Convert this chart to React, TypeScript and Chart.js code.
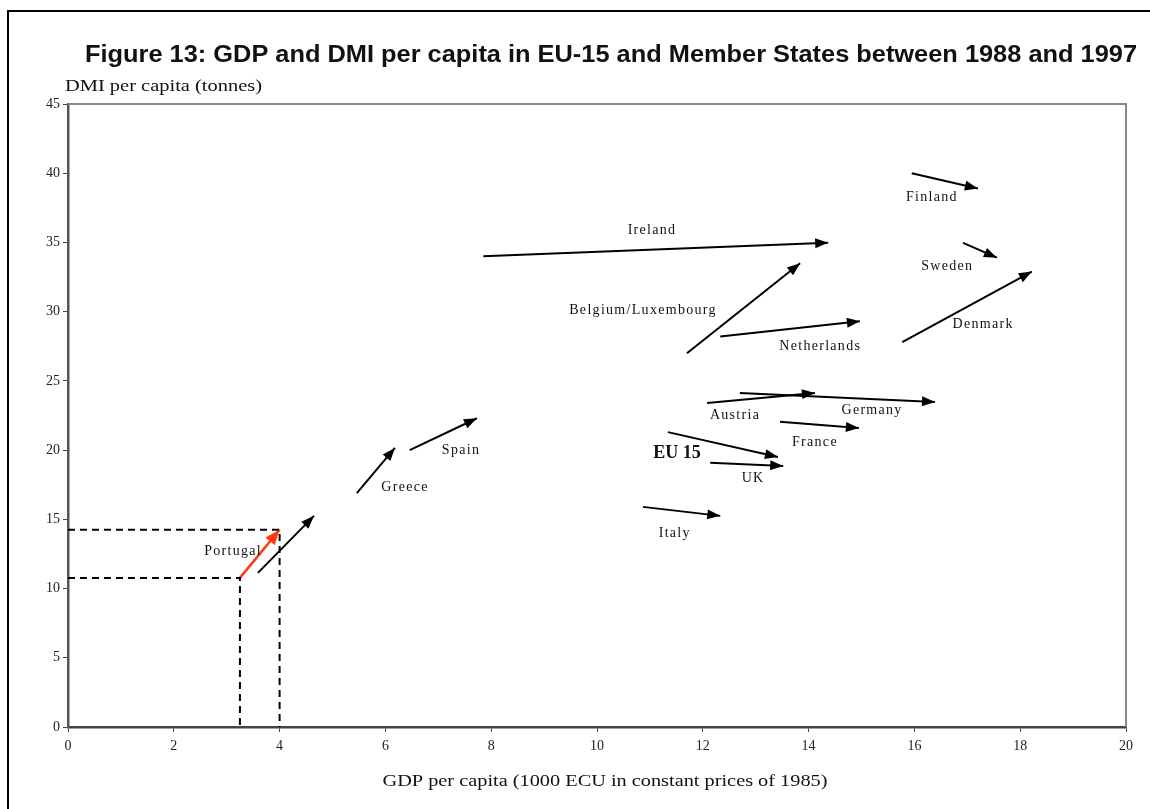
import { useEffect, useRef } from "react";
import { Chart, registerables } from "chart.js";
Chart.register(...registerables);

// ---- data (GDP per capita, 1000 ECU; DMI per capita, tonnes) ----
const countries = ["Ireland", "Belgium/Luxembourg", "Netherlands", "Finland", "Sweden", "Denmark", "Austria", "Germany", "France", "EU 15", "UK", "Italy", "Greece", "Spain", "Portugal"];
const gdp1988 = [7.85, 11.7, 12.33, 15.95, 16.92, 15.77, 12.08, 12.7, 13.46, 11.34, 12.14, 10.87, 5.46, 6.46, 3.59];
const dmi1988 = [34.0, 27.0, 28.2, 40.0, 34.97, 27.8, 23.4, 24.13, 22.04, 21.3, 19.08, 15.9, 16.9, 20.0, 11.13];
const gdp1997 = [14.37, 13.84, 14.97, 17.2, 17.56, 18.22, 14.12, 16.39, 14.95, 13.42, 13.52, 12.33, 6.18, 7.73, 4.65];
const dmi1997 = [34.97, 33.5, 29.3, 38.9, 33.9, 32.9, 24.13, 23.48, 21.6, 19.5, 18.86, 15.25, 20.16, 22.3, 15.25];
// label anchor positions in data units
const labelGdp = [11.04, 10.87, 14.22, 16.33, 16.62, 17.3, 12.61, 15.2, 14.12, 11.51, 12.95, 11.47, 6.37, 7.43, 3.12];
const labelDmi = [35.84, 30.13, 27.53, 38.29, 33.24, 29.05, 22.54, 22.9, 20.59, 19.8, 17.99, 14.02, 17.34, 20.01, 12.72];
// highlighted (red) arrow with guide lines
const highlightGdp = [3.25, 4.0];
const highlightDmi = [10.77, 14.25];
// axes
const xMin = 0, xMax = 20, xStep = 2;
const yMin = 0, yMax = 45, yStep = 5;

const TITLE = "Figure 13: GDP and DMI per capita in EU-15 and Member States between 1988 and 1997";
const Y_TITLE = "DMI per capita (tonnes)";
const X_TITLE = "GDP per capita (1000 ECU in constant prices of 1985)";

const SERIF = "'Liberation Serif', 'DejaVu Serif', serif";
const SANS = "'Liberation Sans', Arial, sans-serif";

function fitText(ctx: CanvasRenderingContext2D, text: string, x: number, y: number, width: number, font: string, align: "left" | "center") {
  ctx.save();
  ctx.font = font;
  ctx.textBaseline = "middle";
  ctx.textAlign = "left";
  const w = ctx.measureText(text).width;
  const s = width / w;
  const left = align === "left" ? x : x - width / 2;
  ctx.translate(left, y);
  ctx.scale(s, 1);
  ctx.fillText(text, 0, 0);
  ctx.restore();
}

const decorPlugin = {
  id: "decor",
  beforeDraw(chart: any) {
    const ctx = chart.ctx as CanvasRenderingContext2D;
    ctx.save();
    ctx.fillStyle = "#ffffff";
    ctx.fillRect(0, 0, chart.width, chart.height);
    ctx.strokeStyle = "#000";
    ctx.lineWidth = 2;
    ctx.beginPath();
    ctx.moveTo(8, chart.height);
    ctx.lineTo(8, 11);
    ctx.lineTo(chart.width, 11);
    ctx.stroke();
    ctx.restore();
  },
  beforeDatasetsDraw(chart: any) {
    const ctx = chart.ctx as CanvasRenderingContext2D;
    const a = chart.chartArea;
    ctx.save();
    ctx.strokeStyle = "#8a8a8a";
    ctx.lineWidth = 2;
    ctx.beginPath();
    ctx.moveTo(a.left, a.top);
    ctx.lineTo(a.right, a.top);
    ctx.lineTo(a.right, a.bottom);
    ctx.stroke();
    ctx.restore();
  },
  afterDatasetsDraw(chart: any) {
    const ctx = chart.ctx as CanvasRenderingContext2D;
    const xs = chart.scales.x;
    const ys = chart.scales.y;
    ctx.save();
    chart.data.datasets.forEach((ds: any) => {
      if (!ds.arrow) return;
      const p = ds.data;
      const x1 = xs.getPixelForValue(p[0].x), y1 = ys.getPixelForValue(p[0].y);
      const x2 = xs.getPixelForValue(p[1].x), y2 = ys.getPixelForValue(p[1].y);
      const ang = Math.atan2(y2 - y1, x2 - x1);
      const L = ds.headLength || 13, H = ds.headHalf || 5;
      ctx.fillStyle = ds.borderColor;
      ctx.beginPath();
      ctx.moveTo(x2, y2);
      ctx.lineTo(x2 - L * Math.cos(ang) + H * Math.sin(ang), y2 - L * Math.sin(ang) - H * Math.cos(ang));
      ctx.lineTo(x2 - L * Math.cos(ang) - H * Math.sin(ang), y2 - L * Math.sin(ang) + H * Math.cos(ang));
      ctx.closePath();
      ctx.fill();
    });
    // country labels
    ctx.fillStyle = "#111";
    ctx.textAlign = "center";
    ctx.textBaseline = "middle";
    countries.forEach((c, i) => {
      const px = xs.getPixelForValue(labelGdp[i]);
      const py = ys.getPixelForValue(labelDmi[i]);
      if (c === "EU 15") {
        ctx.font = `bold 18px ${SERIF}`;
        (ctx as any).letterSpacing = "0px";
      } else {
        ctx.font = `14px ${SERIF}`;
        (ctx as any).letterSpacing = "1.3px";
      }
      ctx.fillText(c, px, py);
    });
    (ctx as any).letterSpacing = "0px";
    ctx.restore();
  },
  afterDraw(chart: any) {
    const ctx = chart.ctx as CanvasRenderingContext2D;
    ctx.save();
    ctx.fillStyle = "#111";
    fitText(ctx, TITLE, 85, 56, 1052, `bold 23px ${SANS}`, "left");
    fitText(ctx, Y_TITLE, 65, 87, 197, `16px ${SERIF}`, "left");
    fitText(ctx, X_TITLE, 605, 782, 445, `16px ${SERIF}`, "center");
    ctx.restore();
  },
};

export default function App() {
  const ref = useRef<HTMLCanvasElement | null>(null);
  useEffect(() => {
    if (!ref.current) return;
    const arrowSets = countries.map((c, i) => ({
      label: c,
      arrow: true,
      data: [
        { x: gdp1988[i], y: dmi1988[i] },
        { x: gdp1997[i], y: dmi1997[i] },
      ],
      showLine: true,
      borderColor: "#000000",
      borderWidth: 2,
      pointRadius: 0,
      clip: false,
    }));
    const guide = (gx: number, gy: number) => ({
      label: "guide",
      data: [
        { x: xMin, y: gy },
        { x: gx, y: gy },
        { x: gx, y: yMin },
      ],
      showLine: true,
      borderColor: "#000000",
      borderWidth: 2,
      borderDash: [7, 5],
      pointRadius: 0,
    });
    const highlight = {
      label: "highlight",
      arrow: true,
      headLength: 15,
      headHalf: 6,
      data: [
        { x: highlightGdp[0], y: highlightDmi[0] },
        { x: highlightGdp[1], y: highlightDmi[1] },
      ],
      showLine: true,
      borderColor: "#ff3a10",
      borderWidth: 2.5,
      pointRadius: 0,
    };
    const tickFont = { family: SERIF, size: 14 };
    const chart = new Chart(ref.current, {
      type: "scatter",
      data: {
        datasets: [
          guide(highlightGdp[0], highlightDmi[0]),
          guide(highlightGdp[1], highlightDmi[1]),
          ...arrowSets,
          highlight,
        ] as any,
      },
      options: {
        animation: false,
        responsive: true,
        maintainAspectRatio: false,
        layout: { padding: { top: 104, right: 24, left: 0, bottom: 0 } },
        plugins: { legend: { display: false }, tooltip: { enabled: false }, title: { display: false } },
        scales: {
          x: {
            type: "linear",
            min: xMin,
            max: xMax,
            ticks: { stepSize: xStep, font: tickFont, color: "#222", padding: 6, maxRotation: 0 },
            grid: { drawOnChartArea: false, drawTicks: true, tickLength: 5, color: "#444", lineWidth: 1 },
            border: { display: true, color: "#444", width: 2.5 },
            afterFit: (s: any) => { s.height = 82; },
          },
          y: {
            type: "linear",
            min: yMin,
            max: yMax,
            ticks: { stepSize: yStep, font: tickFont, color: "#222", padding: 3 },
            grid: { drawOnChartArea: false, drawTicks: true, tickLength: 5, color: "#444", lineWidth: 1 },
            border: { display: true, color: "#555", width: 2.5 },
            afterFit: (s: any) => { s.width = 68; },
          },
        },
      } as any,
      plugins: [decorPlugin],
    });
    return () => chart.destroy();
  }, []);
  return (
    <div style={{ position: "fixed", left: 0, top: 0, width: 1150, height: 809, background: "#fff" }}>
      <canvas ref={ref} />
    </div>
  );
}
